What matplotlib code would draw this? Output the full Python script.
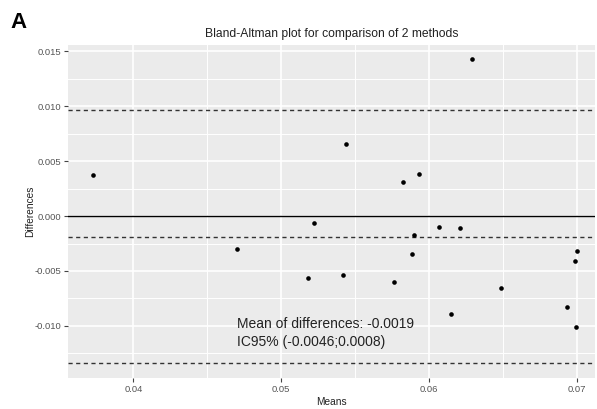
import matplotlib
matplotlib.use("Agg")
import matplotlib.pyplot as plt
from matplotlib.ticker import MultipleLocator

means = [0.03727, 0.04704, 0.05439, 0.05223, 0.05184, 0.05417, 0.05764, 0.06294,
         0.05823, 0.05935, 0.06070, 0.06210, 0.05897, 0.05888, 0.06486, 0.06147,
         0.07004, 0.06986, 0.06934, 0.06995]
diffs = [0.00373, -0.00303, 0.00657, -0.00061, -0.00561, -0.00536, -0.00603, 0.01424,
         0.00306, 0.00379, -0.00097, -0.00112, -0.00173, -0.00348, -0.00652, -0.00891,
         -0.00321, -0.00412, -0.00830, -0.01012]
mean_diff = -0.0019
upper_loa = 0.0096
lower_loa = -0.0134
x_ticks = [0.04, 0.05, 0.06, 0.07]
x_tick_labels = ["0.04", "0.05", "0.06", "0.07"]
y_ticks = [-0.010, -0.005, 0.000, 0.005, 0.010, 0.015]
y_tick_labels = ["-0.010", "-0.005", "0.000", "0.005", "0.010", "0.015"]
title = "Bland-Altman plot for comparison of 2 methods"
annot = "Mean of differences: -0.0019\nIC95% (-0.0046;0.0008)"

plt.rcParams['font.family'] = ['Liberation Sans', 'DejaVu Sans']

fig = plt.figure(figsize=(5.97, 4.09), dpi=100)
ax = fig.add_axes([68/597, 1-378/409, (595-68)/597, (378-45)/409])
ax.set_facecolor('#EBEBEB')
for s in ax.spines.values():
    s.set_visible(False)

ax.set_xlim(0.03558, 0.07124)
ax.set_ylim(-0.01473, 0.01555)
ax.set_xticks(x_ticks)
ax.set_xticklabels(x_tick_labels)
ax.set_yticks(y_ticks)
ax.set_yticklabels(y_tick_labels)
ax.xaxis.set_minor_locator(MultipleLocator(0.005))
ax.yaxis.set_minor_locator(MultipleLocator(0.0025))
ax.grid(which='major', color='white', linewidth=1.2)
ax.grid(which='minor', color='white', linewidth=0.7)
ax.set_axisbelow(True)
ax.tick_params(which='major', length=3, width=0.8, color='#444444', labelsize=6.8, labelcolor='#555555', pad=2)
ax.tick_params(which='minor', length=0)

ax.axhline(0, color='black', linewidth=1.0, zorder=2)
for v in (upper_loa, mean_diff, lower_loa):
    ax.axhline(v, color='#333333', linewidth=1.0, linestyle=(0, (3, 2.5)), zorder=2)

ax.scatter(means, diffs, s=11, color='black', zorder=3, linewidths=0)

ax.text(0.04704, -0.01064, annot, fontsize=10, color='#222222', va='center', ha='left', linespacing=1.3)

ax.set_title(title, fontsize=8.75, color='#222222', pad=6)
ax.set_xlabel("Means", fontsize=7.3, color='#222222', labelpad=2.4)
ax.set_ylabel("Differences", fontsize=7.3, color='#222222', labelpad=-0.6)

fig.text(10/597, 1-22/409, "A", fontsize=16, fontweight='bold', va='center', ha='left')

fig.savefig("out.png", dpi=100)
